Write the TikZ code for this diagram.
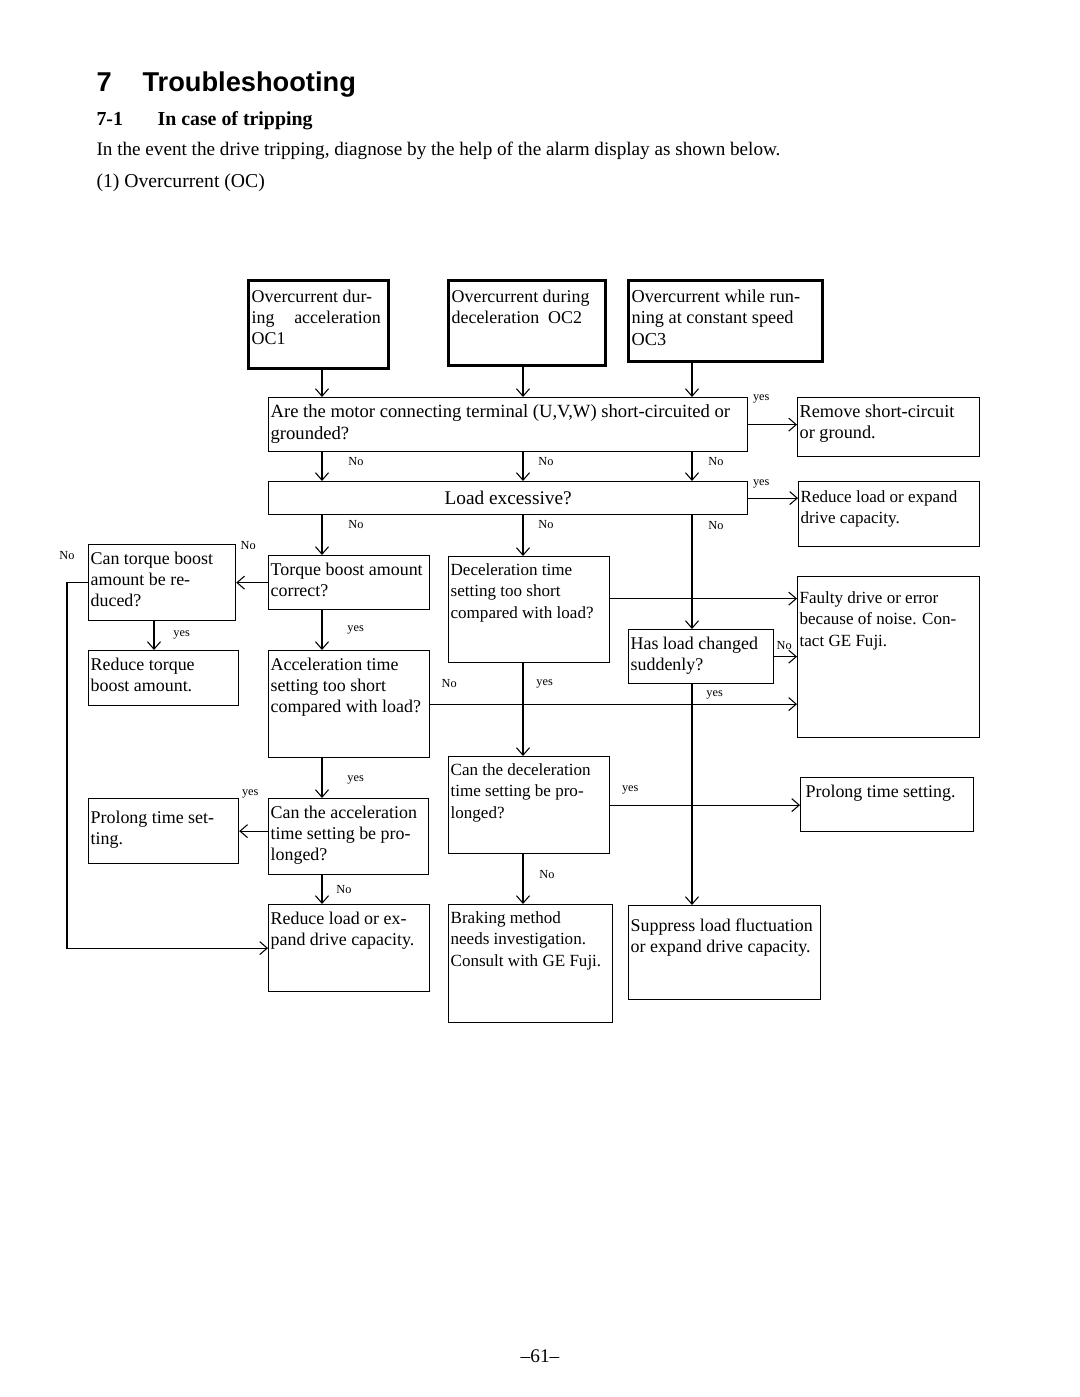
\documentclass[tikz,border=0pt]{standalone}
\usepackage{fontspec}
\setmainfont{Liberation Serif}
\newfontfamily\headsans{Liberation Sans}
\usetikzlibrary{arrows.meta,positioning}
\newcommand{\bxfont}{\fontsize{10.2}{12.2}\selectfont}
\newcommand{\smbxfont}{\fontsize{9.7}{12.2}\selectfont}
\newcommand{\lblfont}{\fontsize{7}{8}\selectfont}

\begin{document}
\begin{tikzpicture}[
  x=0.2mm, y=-0.2mm, line width=0.6pt,
  box/.style={draw, line width=0.7pt, anchor=north west, inner sep=0pt},
  alarm/.style={box, line width=1.8pt},
  txt/.style={anchor=north west, align=left, inner sep=1.2pt, yshift=-1mm, font=\bxfont},
  alarmtxt/.style={txt, xshift=0.4mm, yshift=-0.6mm},
  lbl/.style={font=\lblfont, inner sep=0.5pt},
  head/.style={anchor=base west, inner sep=0pt},
  >={Straight Barb[length=1.5mm,width=2.6mm]}
]
  \path[fill=white, use as bounding box] (0,0) rectangle (1080,1397);

  % page head
  \node[head, font=\headsans\bfseries\fontsize{15.5}{18}\selectfont] (chapno) at (96,91) {7};
  \node[head, font=\headsans\bfseries\fontsize{15.5}{18}\selectfont] (chap) at (142,91) {Troubleshooting};
  \node[head, font=\bfseries\fontsize{11.3}{13}\selectfont] (secno) at (96,125) {7-1};
  \node[head, font=\bfseries\fontsize{11.3}{13}\selectfont] (sec) at (157,125) {In case of tripping};
  \node[head, font=\fontsize{10.9}{13}\selectfont] (intro) at (96,155)
    {In the event the drive tripping, diagnose by the help of the alarm display as shown below.};
  \node[head, font=\fontsize{11.2}{13}\selectfont] (octitle) at (96,187) {(1) Overcurrent (OC)};

  % columns of the flow
  \coordinate (cl) at (67,0);
  \coordinate (c0) at (154,0);
  \coordinate (c1) at (322,0);
  \coordinate (c2) at (523,0);
  \coordinate (c3) at (692,0);

  % alarm boxes
  \node[alarm, minimum width=28mm, minimum height=17.6mm,
    label={[alarmtxt]north west:{Overcurrent dur-\\ing\hspace{1.1em}acceleration\\OC1}}] (oc1) at (247,279) {};
  \node[alarm, minimum width=31.4mm, minimum height=17mm,
    label={[alarmtxt]north west:{Overcurrent during\\deceleration\ \ OC2}}] (oc2) at (447,279) {};
  \node[alarm, minimum width=38.8mm, minimum height=16.2mm,
    label={[alarmtxt, font=\fontsize{10.4}{12.2}\selectfont]north west:{Overcurrent while run-\\ning at constant speed\\OC3}}] (oc3) at (627,279) {};

  % checks
  \node[box, minimum width=95.8mm, minimum height=10.8mm,
    label={[txt, font=\fontsize{10.6}{12.2}\selectfont]north west:{Are the motor connecting terminal (U,V,W) short-circuited or\\grounded?}}] (q1) at (268,397) {};
  \node[box, minimum width=36.4mm, minimum height=11.8mm,
    label={[txt, font=\fontsize{10.4}{12.2}\selectfont]north west:{Remove short-circuit\\or ground.}}] (rem) at (797,397) {};
  \node[box, minimum width=95.8mm, minimum height=6.6mm, font=\fontsize{11}{13}\selectfont] (q2) at (268,481) {Load excessive?};
  \node[box, minimum width=36.2mm, minimum height=13mm,
    label={[txt, font=\smbxfont, yshift=-0.4mm]north west:{Reduce load or expand\\drive capacity.}}] (red1) at (798,481) {};

  \node[box, minimum width=29.4mm, minimum height=15.2mm,
    label={[txt]north west:{Can torque boost\\amount be re-\\duced?}}] (ctb) at (88,544) {};
  \node[box, minimum width=32.2mm, minimum height=10.8mm,
    label={[txt]north west:{Torque boost amount\\correct?}}] (tba) at (268,555) {};
  \node[box, minimum width=32.2mm, minimum height=21.2mm,
    label={[txt, font=\smbxfont]north west:{Deceleration time\\setting too short\\compared with load?}}] (dts) at (448,556) {};
  \node[box, minimum width=36.4mm, minimum height=32.2mm,
    label={[txt, font=\smbxfont, yshift=-1.6mm]north west:{Faulty drive or error\\because of noise. Con-\\tact GE Fuji.}}] (fault) at (797,576) {};
  \node[box, minimum width=29mm, minimum height=10.8mm,
    label={[txt]north west:{Has load changed\\suddenly?}}] (hlc) at (628,629) {};

  \node[box, minimum width=30mm, minimum height=11mm,
    label={[txt]north west:{Reduce torque\\boost amount.}}] (rtb) at (88,650) {};
  \node[box, minimum width=32.2mm, minimum height=21.4mm,
    label={[txt]north west:{Acceleration time\\setting too short\\compared with load?}}] (ats) at (268,650) {};
  \node[box, minimum width=32.2mm, minimum height=19.4mm,
    label={[txt, font=\smbxfont]north west:{Can the deceleration\\time setting be pro-\\longed?}}] (cdp) at (448,756) {};
  \node[box, minimum width=34.6mm, minimum height=10.8mm,
    label={[txt, xshift=0.6mm]north west:{Prolong time setting.}}] (prr) at (800,777) {};
  \node[box, minimum width=30mm, minimum height=13mm,
    label={[txt, yshift=-1mm]north west:{Prolong time set-\\ting.}}] (prl) at (88,798) {};
  \node[box, minimum width=32mm, minimum height=15.2mm,
    label={[txt]north west:{Can the acceleration\\time setting be pro-\\longed?}}] (cap) at (268,798) {};

  % remedies
  \node[box, minimum width=32.2mm, minimum height=17.4mm,
    label={[txt]north west:{Reduce load or ex-\\pand drive capacity.}}] (rlb) at (268,904) {};
  \node[box, minimum width=32.8mm, minimum height=23.6mm,
    label={[txt, font=\smbxfont]north west:{Braking method\\needs investigation.\\Consult with GE Fuji.}}] (brk) at (448,904) {};
  \node[box, minimum width=38.4mm, minimum height=18.8mm,
    label={[txt, yshift=-1.2mm]north west:{Suppress load fluctuation\\or expand drive capacity.}}] (sup) at (628,905) {};

  % connectors
  \draw[->] (oc1.south -| c1) -- (q1.north -| c1);
  \draw[->] (oc2.south -| c2) -- (q1.north -| c2);
  \draw[->] (oc3.south -| c3) -- (q1.north -| c3);
  \draw[->] (q1.east) -- node[lbl, pos=0, xshift=2.6mm, yshift=5.2mm] {yes} (q1.east -| rem.west);
  \draw[->] (q1.south -| c1) -- node[lbl, pos=.33, right=5mm] {No} (q2.north -| c1);
  \draw[->] (q1.south -| c2) -- node[lbl, pos=.33, right=2.8mm] {No} (q2.north -| c2);
  \draw[->] (q1.south -| c3) -- node[lbl, pos=.33, right=3mm] {No} (q2.north -| c3);

  \draw[->] (q2.east) -- node[lbl, pos=0, xshift=2.6mm, yshift=2.9mm] {yes} (q2.east -| red1.west);
  \draw[->] (q2.south -| c1) -- node[lbl, pos=.24, right=5mm] {No} (tba.north -| c1);
  \draw[->] (q2.south -| c2) -- node[lbl, pos=.24, right=2.8mm] {No} (dts.north -| c2);
  \draw[->] (q2.south -| c3) -- node[lbl, pos=.09, right=3mm] {No} (hlc.north -| c3);

  \draw[->] (tba.west) -- node[lbl, pos=1, xshift=2.4mm, yshift=7.4mm] {No} (tba.west -| ctb.east);
  \draw[->] (ctb.south -| c0) -- node[lbl, pos=.47, right=3.6mm] {yes} (rtb.north -| c0);
  \draw[->] (ctb.west) -- node[lbl, pos=1, yshift=5.4mm] {No} (ctb.west -| cl) |- (rlb.west);
  \draw[->] (tba.south -| c1) -- node[lbl, pos=.5, right=4.8mm] {yes} (ats.north -| c1);

  \draw[->] ([yshift=2.2mm]dts.east) coordinate (d1) -- (d1 -| fault.west);
  \draw[->] (hlc.east) -- node[lbl, pos=0, xshift=2mm, yshift=2.2mm] {No} (hlc.east -| fault.west);
  \draw[->] (hlc.south -| c3) -- node[lbl, pos=.05, right=2.6mm] {yes} (sup.north -| c3);
  \draw[->] (ats.east) -- node[lbl, pos=0, xshift=3.8mm, yshift=4.2mm] {No} (ats.east -| fault.west);
  \draw[->] (dts.south -| c2) -- node[lbl, pos=.22, right=2.4mm] {yes} (cdp.north -| c2);

  \draw[->] (ats.south -| c1) -- node[lbl, pos=.54, right=4.8mm] {yes} (cap.north -| c1);
  \draw[->] (cap.west |- prl.east) -- node[lbl, pos=1, xshift=2.2mm, yshift=7.4mm] {yes} (prl.east);
  \draw[->] (cdp.east) -- node[lbl, pos=0, xshift=4mm, yshift=3mm] {yes} (cdp.east -| prr.west);
  \draw[->] (cap.south -| c1) -- node[lbl, pos=.5, right=2.6mm] {No} (rlb.north -| c1);
  \draw[->] (cdp.south -| c2) -- node[lbl, pos=.4, right=3mm] {No} (brk.north -| c2);

  \node[anchor=base, inner sep=0pt, font=\fontsize{11}{13}\selectfont] (pageno) at (540,1362) {–61–};
\end{tikzpicture}
\end{document}
